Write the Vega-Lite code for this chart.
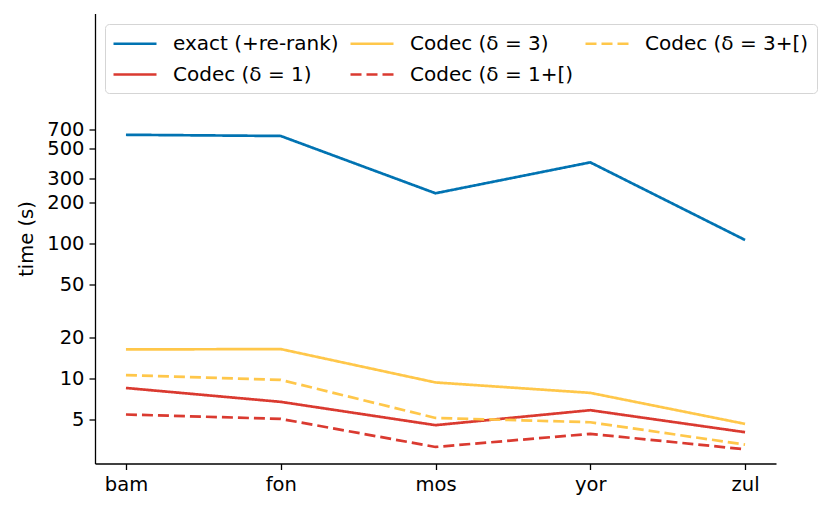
{
  "$schema": "https://vega.github.io/schema/vega-lite/v6.json",
  "width": 681,
  "height": 450,
  "autosize": {"type": "none"},
  "padding": {"left": 95, "top": 13.5, "right": 55, "bottom": 49.5},
  "config": {
    "view": {"stroke": null},
    "font": "DejaVu Sans",
    "axis": {
      "domainColor": "#000000",
      "domainWidth": 1.3,
      "tickColor": "#000000",
      "tickWidth": 1.3,
      "tickSize": 6,
      "labelColor": "#000000",
      "labelFont": "DejaVu Sans",
      "labelFontSize": 19.5,
      "titleFont": "DejaVu Sans",
      "titleFontSize": 19.5,
      "titleFontWeight": "normal",
      "titleColor": "#000000",
      "grid": false
    },
    "legend": {
      "labelFont": "DejaVu Sans",
      "labelFontSize": 20,
      "labelColor": "#000000",
      "labelLimit": 400
    }
  },
  "data": {
    "values": [
      {"method": "exact (+re-rank)", "lang": "bam", "time": 637},
      {"method": "exact (+re-rank)", "lang": "fon", "time": 624},
      {"method": "exact (+re-rank)", "lang": "mos", "time": 235},
      {"method": "exact (+re-rank)", "lang": "yor", "time": 398},
      {"method": "exact (+re-rank)", "lang": "zul", "time": 106},
      {"method": "Codec (δ = 1)", "lang": "bam", "time": 8.5},
      {"method": "Codec (δ = 1)", "lang": "fon", "time": 6.71},
      {"method": "Codec (δ = 1)", "lang": "mos", "time": 4.51},
      {"method": "Codec (δ = 1)", "lang": "yor", "time": 5.82},
      {"method": "Codec (δ = 1)", "lang": "zul", "time": 4.0},
      {"method": "Codec (δ = 3)", "lang": "bam", "time": 16.4},
      {"method": "Codec (δ = 3)", "lang": "fon", "time": 16.5},
      {"method": "Codec (δ = 3)", "lang": "mos", "time": 9.34},
      {"method": "Codec (δ = 3)", "lang": "yor", "time": 7.82},
      {"method": "Codec (δ = 3)", "lang": "zul", "time": 4.61},
      {"method": "Codec (δ = 1+[)", "lang": "bam", "time": 5.41},
      {"method": "Codec (δ = 1+[)", "lang": "fon", "time": 5.02},
      {"method": "Codec (δ = 1+[)", "lang": "mos", "time": 3.11},
      {"method": "Codec (δ = 1+[)", "lang": "yor", "time": 3.89},
      {"method": "Codec (δ = 1+[)", "lang": "zul", "time": 2.99},
      {"method": "Codec (δ = 3+[)", "lang": "bam", "time": 10.6},
      {"method": "Codec (δ = 3+[)", "lang": "fon", "time": 9.76},
      {"method": "Codec (δ = 3+[)", "lang": "mos", "time": 5.1},
      {"method": "Codec (δ = 3+[)", "lang": "yor", "time": 4.74},
      {"method": "Codec (δ = 3+[)", "lang": "zul", "time": 3.24}
    ]
  },
  "mark": {"type": "line", "strokeWidth": 2.7, "strokeCap": "butt"},
  "encoding": {
    "x": {
      "field": "lang",
      "type": "nominal",
      "sort": ["bam", "fon", "mos", "yor", "zul"],
      "scale": {"type": "point", "padding": 0.2},
      "axis": {"title": null, "labelAngle": 0, "labelPadding": 6}
    },
    "y": {
      "field": "time",
      "type": "quantitative",
      "scale": {"type": "log", "domain": [2.346, 5035], "nice": false},
      "axis": {
        "title": "time (s)",
        "values": [5, 10, 20, 50, 100, 200, 300, 500, 700],
        "format": "d",
        "labelPadding": 5,
        "titlePadding": 10
      }
    },
    "color": {
      "field": "method",
      "type": "nominal",
      "scale": {
        "domain": ["exact (+re-rank)", "Codec (δ = 1)", "Codec (δ = 3)", "Codec (δ = 1+[)", "Codec (δ = 3+[)"],
        "range": ["#0173B2", "#DA3A30", "#FFC74A", "#DA3A30", "#FFC74A"]
      },
      "legend": {
        "title": null,
        "orient": "none",
        "legendX": 10,
        "legendY": 10.5,
        "columns": 3,
        "columnPadding": 6,
        "rowPadding": 9,
        "symbolType": "M-1.1,0H3.2",
        "symbolSize": 400,
        "symbolStrokeWidth": 2.7,
        "labelOffset": 37,
        "padding": 8,
        "strokeColor": "#d5d5d5",
        "fillColor": "#ffffff",
        "cornerRadius": 4
      }
    },
    "strokeDash": {
      "field": "method",
      "type": "nominal",
      "scale": {
        "domain": ["exact (+re-rank)", "Codec (δ = 1)", "Codec (δ = 3)", "Codec (δ = 1+[)", "Codec (δ = 3+[)"],
        "range": [[1, 0], [1, 0], [1, 0], [11, 5], [11, 5]]
      },
      "legend": {
        "title": null,
        "orient": "none",
        "legendX": 10,
        "legendY": 10.5,
        "columns": 3,
        "columnPadding": 6,
        "rowPadding": 9,
        "symbolType": "M-1.1,0H3.2",
        "symbolSize": 400,
        "symbolStrokeWidth": 2.7,
        "labelOffset": 37,
        "padding": 8,
        "strokeColor": "#d5d5d5",
        "fillColor": "#ffffff",
        "cornerRadius": 4
      }
    }
  }
}
